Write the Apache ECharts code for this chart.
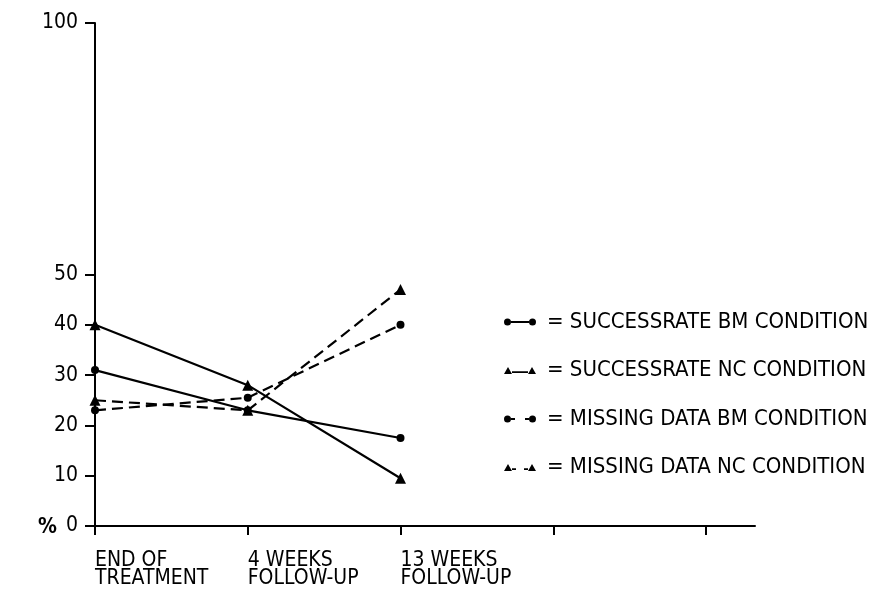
<!DOCTYPE html>
<html>
<head>
<meta charset="utf-8">
<script src="https://cdn.jsdelivr.net/npm/echarts@6/dist/echarts.min.js"></script>
<style>
html,body{margin:0;padding:0;background:#fff;}
#chart{width:878px;height:604px;}
</style>
</head>
<body>
<div id="chart"></div>
<script>
const categories = ['END OF\nTREATMENT', '4 WEEKS\nFOLLOW-UP', '13 WEEKS\nFOLLOW-UP', '', ''];
const yTicks = [0, 10, 20, 30, 40, 50, 100];
const successBM = [31, 23, 17.5];
const successNC = [40, 28, 9.5];
const missingBM = [23, 25.5, 40];
const missingNC = [25, 23, 47];
const seriesNames = ['SUCCESSRATE BM CONDITION', 'SUCCESSRATE NC CONDITION', 'MISSING DATA BM CONDITION', 'MISSING DATA NC CONDITION'];

const circ = (x) => 'M' + x + ',3.5a3.5,3.5 0 1,0 7,0a3.5,3.5 0 1,0 -7,0z';
const tri = (x) => 'M' + x + ',7L' + (x + 4) + ',0L' + (x + 8) + ',7z';
const icons = [
  'path://' + circ(0) + ' M7,2.6h18v1.8h-18z ' + circ(25),
  'path://' + tri(0) + ' M8,4.2h16v1.8h-16z ' + tri(24),
  'path://' + circ(0) + ' M7,2.6h4v1.8h-4z M21,2.6h4v1.8h-4z ' + circ(25),
  'path://' + tri(0) + ' M8,4.2h4v1.8h-4z M20,4.2h4v1.8h-4z ' + tri(24)
];

const FONT = 'DejaVu Sans Condensed, DejaVu Sans';
const chart = echarts.init(document.getElementById('chart'), null, {renderer: 'canvas'});

function mkSeries(name, data, symbol, size, dashed) {
  return {
    name: name, type: 'line', xAxisIndex: 0, yAxisIndex: 0,
    data: data, symbol: symbol, symbolSize: size, showSymbol: true,
    color: '#000',
    itemStyle: {color: '#000'},
    lineStyle: {color: '#000', width: 2.2, type: dashed ? [11, 6] : 'solid'},
    emphasis: {disabled: true},
    animation: false, z: 5
  };
}

chart.setOption({
  animation: false,
  backgroundColor: '#fff',
  textStyle: {fontFamily: FONT, color: '#000'},
  grid: [
    {left: 95, top: 23, width: 611, height: 503},
    {left: 95, top: 23, width: 660, height: 503}
  ],
  xAxis: [
    {
      type: 'category', gridIndex: 0, data: categories, boundaryGap: false,
      axisLine: {show: true, lineStyle: {color: '#000', width: 2}},
      axisTick: {show: true, interval: 0, length: 9, lineStyle: {color: '#000', width: 2}},
      axisLabel: {interval: 0, align: 'left', verticalAlign: 'top', margin: 26, lineHeight: 18,
                  fontSize: 21, fontFamily: FONT, color: '#000'},
      splitLine: {show: false}
    },
    {
      type: 'value', gridIndex: 1, min: 0, max: 1,
      axisLine: {show: true, lineStyle: {color: '#000', width: 2}},
      axisTick: {show: false}, axisLabel: {show: false}, splitLine: {show: false}
    }
  ],
  yAxis: [
    {
      type: 'value', gridIndex: 0, min: 0, max: 100, interval: 10,
      axisLine: {show: true, lineStyle: {color: '#000', width: 2}},
      axisTick: {show: true, length: 10, customValues: yTicks, lineStyle: {color: '#000', width: 2}},
      axisLabel: {customValues: yTicks, margin: 17, fontSize: 21, fontFamily: FONT, color: '#000'},
      splitLine: {show: false}
    },
    {
      type: 'value', gridIndex: 1, min: 0, max: 1, show: false
    }
  ],
  legend: {
    orient: 'vertical', left: 499, top: 306, itemWidth: 32, itemHeight: 7, itemGap: 26.5,
    selectedMode: false,
    formatter: '= {name}',
    textStyle: {fontSize: 22, fontFamily: FONT, color: '#000', padding: [0, 0, 0, 6]},
    itemStyle: {color: '#000', borderWidth: 0},
    lineStyle: {width: 0},
    data: seriesNames.map((n, i) => ({name: n, icon: icons[i]}))
  },
  graphic: [
    {type: 'text', left: 38, top: 517, style: {text: '%', fontSize: 21, fontFamily: FONT, fontWeight: 'bold', fill: '#000'}}
  ],
  series: [
    mkSeries(seriesNames[0], successBM, 'circle', 8, false),
    mkSeries(seriesNames[1], successNC, 'triangle', 11, false),
    mkSeries(seriesNames[2], missingBM, 'circle', 8, true),
    mkSeries(seriesNames[3], missingNC, 'triangle', 11, true)
  ]
});
</script>
</body>
</html>
